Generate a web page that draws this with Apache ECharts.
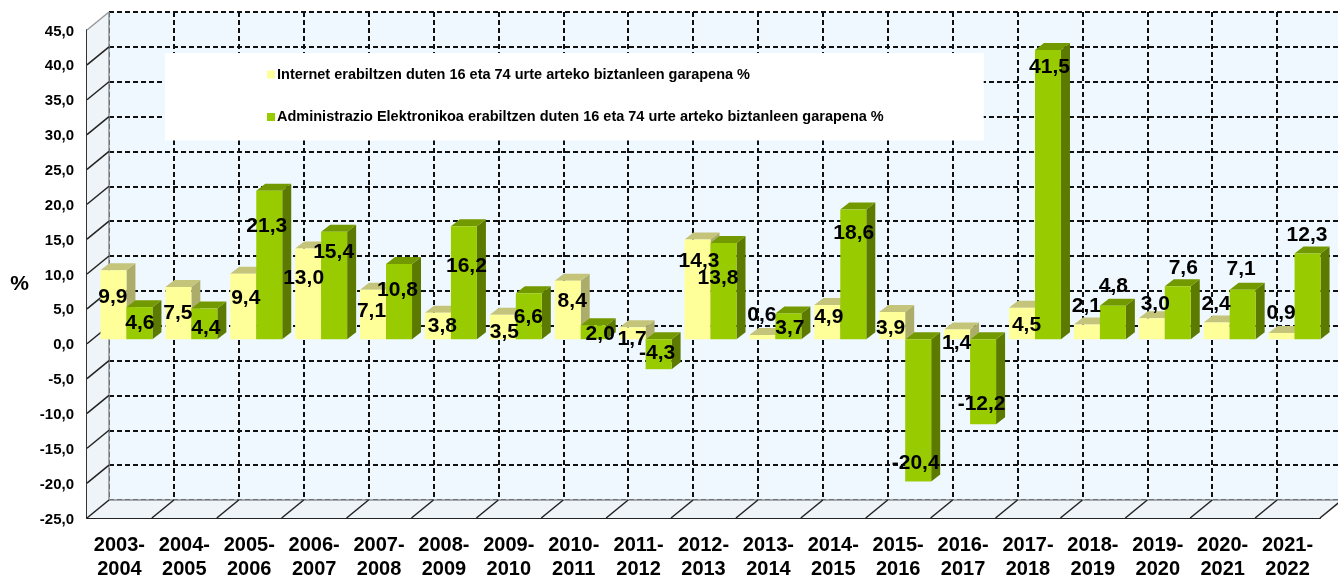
<!DOCTYPE html>
<html><head><meta charset="utf-8">
<style>html,body{margin:0;padding:0;background:#fff}#c{width:1338px;height:577px}</style>
<script src="https://cdn.jsdelivr.net/npm/echarts@6/dist/echarts.min.js"></script>
</head><body><div id="c"></div>
<script>
const categories = ['2003-2004','2004-2005','2005-2006','2006-2007','2007-2008','2008-2009','2009-2010','2010-2011','2011-2012','2012-2013','2013-2014','2014-2015','2015-2016','2016-2017','2017-2018','2018-2019','2019-2020','2020-2021','2021-2022'];
const internetName = 'Internet erabiltzen duten 16 eta 74 urte arteko biztanleen garapena %';
const adminName = 'Administrazio Elektronikoa erabiltzen duten 16 eta 74 urte arteko biztanleen garapena %';
const internet = [9.9,7.5,9.4,13.0,7.1,3.8,3.5,8.4,1.7,14.3,0.6,4.9,3.9,1.4,4.5,2.1,3.0,2.4,0.9];
const admin = [4.6,4.4,21.3,15.4,10.8,16.2,6.6,2.0,-4.3,13.8,3.7,18.6,-20.4,-12.2,41.5,4.8,7.6,7.1,12.3];
const yTicks = [-25,-20,-15,-10,-5,0,5,10,15,20,25,30,35,40,45];

// label placement relative to the bar end (presentation only)
const internetLabelDx = [0,0,3,-4,-1,5,2,5,0,2,0,2,-1,0,5,0,4,0,0];
const internetLabelDy = [27,26,24,29,21,12.5,17,20,11,21,-20,12,16,13,17,-19,-15,-19,-20];
const adminLabelDx = [1,2,-2,0,-1,3,0,7,-1,-5,2,1,-2,-1,2,1,6,-1,0];
const adminLabelDy = [16,19,35,20,26,39,24,8,-16,35,14,23,-19,-21,17,-20,-19,-21,-19];

const DX = 22, DY = 18, BX = 7, BY = 4.5, BW = 26, PD = 9, PH = 7;
const fmt = v => v.toFixed(1).replace('.', ',');

function bar(side, colors) {
  return (params, api) => {
    const i = api.value(0), v = api.value(1);
    const top = api.coord([i, v]), zero = api.coord([i, 0]);
    const x0 = top[0] + BX + (side < 0 ? -BW : 0), x1 = x0 + BW;
    const yv = top[1] - BY, y0 = zero[1] - BY;
    const yt = Math.min(yv, y0), yb = Math.max(yv, y0);
    return { type: 'group', children: [
      { type: 'polygon', shape: { points: [[x1,yt],[x1+PD,yt-PH],[x1+PD,yb-PH],[x1,yb]] }, style: { fill: colors[2] } },
      { type: 'polygon', shape: { points: [[x0,yt],[x0+PD,yt-PH],[x1+PD,yt-PH],[x1,yt]] }, style: { fill: colors[1] } },
      { type: 'rect', shape: { x: x0, y: yt, width: BW, height: yb - yt }, style: { fill: colors[0] } }
    ]};
  };
}
function labels(side) {
  return (params, api) => {
    const i = api.value(0), v = api.value(1), dx = api.value(2), dy = api.value(3);
    const p = api.coord([i, v]);
    return { type: 'text', x: p[0] + BX - 0.5 + side * BW / 2 + dx, y: p[1] - BY + dy + 0.5,
      style: { text: fmt(v), fill: '#000', font: 'bold 21px "Liberation Sans", Arial, sans-serif', align: 'center', verticalAlign: 'middle' } };
  };
}
const barSeries = (name, vals, side, cols, z) => ({
  name, type: 'custom', xAxisIndex: 0, yAxisIndex: 0, z, silent: true, itemStyle: { color: cols[0] },
  data: vals.map((v, i) => [i, v]), encode: { x: 0, y: 1 }, renderItem: bar(side, cols)
});
const labelSeries = (vals, dxs, dys, side) => ({
  type: 'custom', xAxisIndex: 0, yAxisIndex: 0, z: 10, silent: true,
  data: vals.map((v, i) => [i, v, dxs[i], dys[i]]), encode: { x: 0, y: 1 }, renderItem: labels(side)
});

const yellow = ['#FFFF99', '#C4C47A', '#ADAD6B'];
const green = ['#99CC00', '#739900', '#5C7A00'];
const wallFill = '#EEF4F7';
const edge = '#8E9296';

const option = {
  animation: false,
  backgroundColor: '#fff',
  textStyle: { fontFamily: '"Liberation Sans", Arial, sans-serif' },
  grid: [
    { left: 87, top: 30, width: 1233, height: 488, show: false, outerBoundsMode: 'none' },
    { left: 109, top: 12, width: 1233, height: 488, show: true, backgroundColor: '#EFF8FE', borderWidth: 0, outerBoundsMode: 'none' }
  ],
  xAxis: [
    { gridIndex: 0, type: 'category', data: categories, boundaryGap: true,
      axisLine: { onZero: false, lineStyle: { color: '#222', width: 2 } }, axisTick: { show: false },
      axisLabel: { interval: 0, color: '#000', fontWeight: 'bold', fontSize: 20, lineHeight: 24, margin: 15,
        formatter: s => s.replace('-', '-\n') } },
    { gridIndex: 1, type: 'category', data: categories, boundaryGap: true, position: 'bottom',
      axisLine: { show: false }, axisTick: { show: false }, axisLabel: { show: false },
      splitLine: { show: true, interval: 0, lineStyle: { color: '#111', width: 2, type: [5, 3] } } }
  ],
  yAxis: [
    { gridIndex: 0, type: 'value', min: -25, max: 45, interval: 5,
      name: '%', nameLocation: 'middle', nameRotate: 0, nameGap: 58,
      nameTextStyle: { color: '#000', fontWeight: 'bold', fontSize: 21, verticalAlign: 'top' },
      axisLine: { show: true, onZero: false, lineStyle: { color: '#333', width: 2 } }, axisTick: { show: false }, splitLine: { show: false },
      axisLabel: { color: '#000', fontWeight: 'bold', fontSize: 15, margin: 13, verticalAlign: 'top', padding: [-6, 0, 0, 0], formatter: v => fmt(v) } },
    { gridIndex: 1, type: 'value', min: -25, max: 45, interval: 5,
      axisLine: { show: false }, axisTick: { show: false }, axisLabel: { show: false },
      splitLine: { show: true, lineStyle: { color: '#111', width: 2, type: [5, 3] } } }
  ],
  legend: {
    left: 165, top: 53, orient: 'vertical', selectedMode: false, backgroundColor: '#fff', borderRadius: 0,
    padding: [14, 100, 16, 102], itemGap: 27.5, itemWidth: 8, itemHeight: 8, icon: 'rect',
    data: [internetName, adminName],
    textStyle: { color: '#000', fontWeight: 'bold', fontSize: 14.5, padding: [0, 0, 0, -3] }
  },
  series: [
    { type: 'custom', xAxisIndex: 0, yAxisIndex: 0, z: 1, silent: true, data: [0],
      renderItem: (params) => {
        const g = params.coordSys, xl = g.x, yb = g.y + g.height, yt = g.y, xr = g.x + g.width;
        const st = { stroke: edge, lineWidth: 1.5 };
        return { type: 'group', children: [
          { type: 'polygon', shape: { points: [[xl,yt],[xl+DX,yt-DY],[xl+DX,yb-DY],[xl,yb]] }, style: { fill: wallFill } },
          { type: 'polygon', shape: { points: [[xl,yb],[xl+DX,yb-DY],[xr+DX,yb-DY],[xr,yb]] }, style: { fill: wallFill } },
          { type: 'line', shape: { x1: xl+DX, y1: yb-DY, x2: xr+DX, y2: yb-DY }, style: st },
          { type: 'line', shape: { x1: xl+DX, y1: yt-DY, x2: xl+DX, y2: yb-DY }, style: st }
        ]};
      } },
    { type: 'custom', xAxisIndex: 0, yAxisIndex: 0, z: 2, silent: true,
      data: yTicks.map(v => [0, v]), encode: { x: 0, y: 1 },
      renderItem: (params, api) => {
        const y = api.coord([0, api.value(1)])[1], x = params.coordSys.x;
        return { type: 'line', shape: { x1: x, y1: y, x2: x + DX, y2: y - DY },
          style: { stroke: api.value(1) === 45 ? '#999' : '#222', lineWidth: 1.5 } };
      } },
    { type: 'custom', xAxisIndex: 0, yAxisIndex: 0, z: 2, silent: true,
      data: categories.map((c, i) => [i, -25]), encode: { x: 0, y: 1 },
      renderItem: (params, api) => {
        const p = api.coord([api.value(0), -25]), w = api.size([1, 0])[0];
        const x = p[0] + w / 2;
        return { type: 'line', shape: { x1: x, y1: p[1], x2: x + DX, y2: p[1] - DY },
          style: { stroke: '#222', lineWidth: 1.5 } };
      } },
    barSeries(internetName, internet, -1, yellow, 5),
    barSeries(adminName, admin, 1, green, 6),
    labelSeries(internet, internetLabelDx, internetLabelDy, -1),
    labelSeries(admin, adminLabelDx, adminLabelDy, 1)
  ]
};
const chart = echarts.init(document.getElementById('c'), null, { renderer: 'canvas' });
chart.setOption(option);
</script></body></html>
